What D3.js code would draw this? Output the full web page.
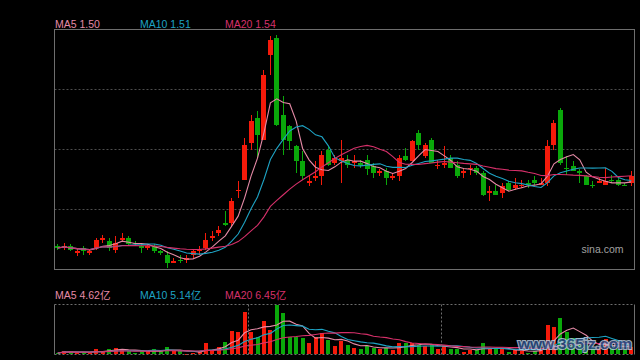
<!DOCTYPE html>
<html><head><meta charset="utf-8">
<script src="https://cdn.jsdelivr.net/npm/d3@7"></script>
<style>html,body{margin:0;padding:0;background:#000;}svg{display:block}</style>
</head><body><svg id="c" width="640" height="360"></svg>
<script>
const opens = [1.11,1.10,1.11,1.07,1.10,1.07,1.10,1.15,1.14,1.09,
1.15,1.16,1.13,1.11,1.10,1.11,1.08,1.06,1.01,1.03,
1.03,1.06,1.08,1.10,1.16,1.19,1.25,1.25,1.44,1.51,
1.73,1.88,1.75,2.26,2.36,1.90,1.83,1.71,1.62,1.49,
1.52,1.53,1.69,1.61,1.62,1.63,1.61,1.61,1.63,1.59,
1.55,1.56,1.52,1.53,1.65,1.62,1.79,1.65,1.75,1.59,
1.60,1.64,1.60,1.55,1.57,1.58,1.55,1.43,1.44,1.43,
1.49,1.46,1.47,1.49,1.51,1.48,1.49,1.72,1.93,1.58,
1.59,1.56,1.53,1.48,1.49,1.48,1.51,1.51,1.48,1.49];
const closes = [1.10,1.11,1.09,1.08,1.08,1.08,1.15,1.16,1.10,1.13,
1.16,1.12,1.12,1.10,1.11,1.08,1.07,1.01,1.02,1.02,
1.04,1.08,1.09,1.15,1.17,1.21,1.24,1.38,1.45,1.72,
1.86,1.78,2.14,2.35,1.84,1.75,1.74,1.62,1.53,1.50,
1.53,1.66,1.60,1.64,1.64,1.60,1.62,1.60,1.57,1.55,
1.56,1.52,1.53,1.64,1.63,1.74,1.72,1.72,1.61,1.60,
1.61,1.58,1.53,1.56,1.58,1.55,1.42,1.44,1.42,1.47,
1.45,1.48,1.48,1.48,1.49,1.49,1.71,1.85,1.61,1.57,
1.56,1.55,1.48,1.47,1.50,1.50,1.50,1.48,1.47,1.53];
const highs = [1.12,1.13,1.12,1.10,1.11,1.09,1.16,1.18,1.16,1.17,
1.19,1.17,1.14,1.12,1.12,1.12,1.09,1.08,1.04,1.06,
1.06,1.09,1.11,1.19,1.20,1.23,1.32,1.40,1.50,1.76,
1.90,1.92,2.17,2.37,2.38,2.01,1.84,1.72,1.68,1.53,
1.62,1.68,1.71,1.66,1.75,1.66,1.66,1.63,1.66,1.61,
1.57,1.58,1.55,1.66,1.70,1.75,1.81,1.73,1.76,1.63,
1.71,1.66,1.62,1.58,1.60,1.59,1.56,1.47,1.48,1.49,
1.50,1.52,1.51,1.51,1.53,1.52,1.75,1.87,1.94,1.65,
1.62,1.57,1.54,1.50,1.52,1.58,1.54,1.52,1.49,1.56];
const lows = [1.09,1.09,1.08,1.05,1.06,1.06,1.09,1.13,1.08,1.07,
1.14,1.11,1.11,1.07,1.09,1.07,1.06,0.98,1.01,1.01,
1.01,1.04,1.06,1.09,1.14,1.17,1.23,1.23,1.40,1.51,
1.69,1.64,1.75,2.14,1.83,1.66,1.69,1.55,1.51,1.47,
1.50,1.48,1.59,1.60,1.49,1.58,1.58,1.58,1.54,1.52,
1.53,1.48,1.51,1.50,1.62,1.62,1.69,1.64,1.61,1.57,
1.58,1.58,1.52,1.52,1.54,1.54,1.41,1.38,1.42,1.40,
1.44,1.45,1.46,1.46,1.48,1.48,1.47,1.69,1.60,1.54,
1.56,1.49,1.48,1.46,1.49,1.48,1.49,1.47,1.47,1.47];
// volume in 亿
const volumes = [0.84,1.79,1.79,0.84,1.40,0.84,3.25,1.79,3.25,3.64,
2.69,1.79,0.84,1.79,1.79,3.08,1.79,4.20,1.79,1.79,
0.45,0.84,1.79,6.44,2.69,4.03,7.00,13.33,12.60,23.80,
12.60,9.80,18.59,13.89,27.55,23.24,10.08,9.80,9.41,6.55,
9.97,11.87,8.12,4.65,7.73,5.43,3.75,3.08,5.04,3.81,
3.08,3.64,2.52,6.33,6.33,6.72,5.32,4.76,5.32,3.08,
4.76,3.08,3.08,1.57,2.80,2.52,6.33,3.08,3.08,3.08,
1.23,2.52,1.96,1.12,2.24,3.08,16.52,15.29,20.33,12.88,
9.20,6.30,5.10,3.90,3.90,8.96,3.90,3.30,2.60,4.30];
const maPeriods = [5, 10, 20];
const maNames = ["MA5", "MA10", "MA20"];
const priceLegendValues = ["1.50", "1.51", "1.54"];
const volumeLegendValues = ["4.62亿", "5.14亿", "6.45亿"];
const monthStarts = [30, 60];
const priceDomain = [0.97, 2.41];
const volumeDomain = [0, 28];

const maColors = ["#e58aa6", "#1ea3c4", "#d6306a"];
const UP = "#f51a0a", DOWN = "#0aa80a";
const FONT = "'Liberation Sans', Arial, 'Noto Sans CJK SC', sans-serif";

const svg = d3.select("#c");
svg.append("rect").attr("width", 640).attr("height", 360).attr("fill", "#000");

const N = closes.length;
const L = 54.5, R = 634.5;
const x = d3.scaleBand().domain(d3.range(N)).range([L, R]);
const cx = i => x(i) + x.bandwidth() / 2;
const y = d3.scaleLinear().domain(priceDomain).range([269.5, 29.5]);
const yv = d3.scaleLinear().domain(volumeDomain).range([354.5, 304.5]);

function movingAvg(arr, n) {
  return arr.map((_, i) => {
    const s = Math.max(0, i - n + 1);
    return d3.mean(arr.slice(s, i + 1));
  });
}
function isUp(i) {
  if (closes[i] !== opens[i]) return closes[i] > opens[i];
  return i === 0 ? true : closes[i] >= closes[i - 1];
}

// grid in main panel
const gridG = svg.append("g");
[89.5, 149.5, 209.5].forEach(gy => {
  gridG.append("line").attr("x1", L).attr("x2", R).attr("y1", gy).attr("y2", gy)
    .attr("stroke", "#4d4d4d").attr("stroke-dasharray", "2,2");
});

// candles
const cg = svg.append("g");
d3.range(N).forEach(i => {
  const col = isUp(i) ? UP : DOWN;
  const c = cx(i);
  const hy = Math.round(y(highs[i])), ly = Math.round(y(lows[i]));
  cg.append("rect").attr("x", Math.round(c - 0.5)).attr("width", 1)
    .attr("y", hy).attr("height", Math.max(1, ly - hy)).attr("fill", col);
  const ty = Math.round(y(Math.max(opens[i], closes[i])));
  const by = Math.round(y(Math.min(opens[i], closes[i])));
  cg.append("rect").attr("x", Math.round(c - 2.5)).attr("width", 5)
    .attr("y", ty).attr("height", Math.max(1, by - ty)).attr("fill", col);
});

// price MAs
maPeriods.forEach((p, k) => {
  const ma = movingAvg(closes, p);
  svg.append("path").datum(ma)
    .attr("d", d3.line().x((d, i) => cx(i)).y(d => y(d)))
    .attr("fill", "none").attr("stroke", maColors[k]).attr("stroke-width", 1.1);
});

// main border
svg.append("rect").attr("x", L).attr("y", 29.5).attr("width", R - L).attr("height", 240)
  .attr("fill", "none").attr("stroke", "#6e6e6e");

// legends
const legX = [55, 140, 225];
maNames.forEach((n, k) => {
  svg.append("text").attr("x", legX[k]).attr("y", 28.3).attr("fill", maColors[k])
    .attr("font-family", FONT).attr("font-size", "10.5px").text(n + " " + priceLegendValues[k]);
  svg.append("text").attr("x", legX[k]).attr("y", 298.8).attr("fill", maColors[k])
    .attr("font-family", FONT).attr("font-size", "10.5px").text(n + " " + volumeLegendValues[k]);
});

svg.append("text").attr("x", 581.5).attr("y", 252.5).attr("fill", "#a0a0a0")
  .attr("font-family", FONT).attr("font-size", "10.5px").text("sina.com");

// volume panel
const vg = svg.append("g");
d3.range(N).forEach(i => {
  const col = isUp(i) ? UP : DOWN;
  const top = Math.round(yv(volumes[i]));
  vg.append("rect").attr("x", Math.round(cx(i) - 2)).attr("width", 4)
    .attr("y", top).attr("height", Math.max(1, 354 - top)).attr("fill", col);
});
maPeriods.forEach((p, k) => {
  const ma = movingAvg(volumes, p);
  svg.append("path").datum(ma)
    .attr("d", d3.line().x((d, i) => cx(i)).y(d => yv(d)))
    .attr("fill", "none").attr("stroke", maColors[k]).attr("stroke-width", 1.1);
});
[304.5, 354.5].forEach(gy => {
  svg.append("line").attr("x1", L).attr("x2", R).attr("y1", gy).attr("y2", gy)
    .attr("stroke", "#6e6e6e").attr("stroke-dasharray", "2,2");
});
[L, R].forEach(gx => {
  svg.append("line").attr("x1", gx).attr("x2", gx).attr("y1", 304.5).attr("y2", 354.5)
    .attr("stroke", "#6e6e6e");
});
monthStarts.forEach(m => {
  const gx = Math.round(x(m)) + 0.5;
  svg.append("line").attr("x1", gx).attr("x2", gx).attr("y1", 304.5).attr("y2", 354.5)
    .attr("stroke", "#6e6e6e").attr("stroke-dasharray", "2,2");
});

// watermark
svg.append("text").attr("x", 518).attr("y", 348.5)
  .attr("font-family", FONT).attr("font-size", "15.5px").attr("font-weight", "bold")
  .attr("textLength", 114).attr("lengthAdjust", "spacingAndGlyphs")
  .attr("fill", "#2d5088").attr("stroke", "#b8c8dc").attr("stroke-width", 2.2)
  .attr("paint-order", "stroke").attr("opacity", 0.85)
  .text("www.365jz.com");
</script></body></html>
